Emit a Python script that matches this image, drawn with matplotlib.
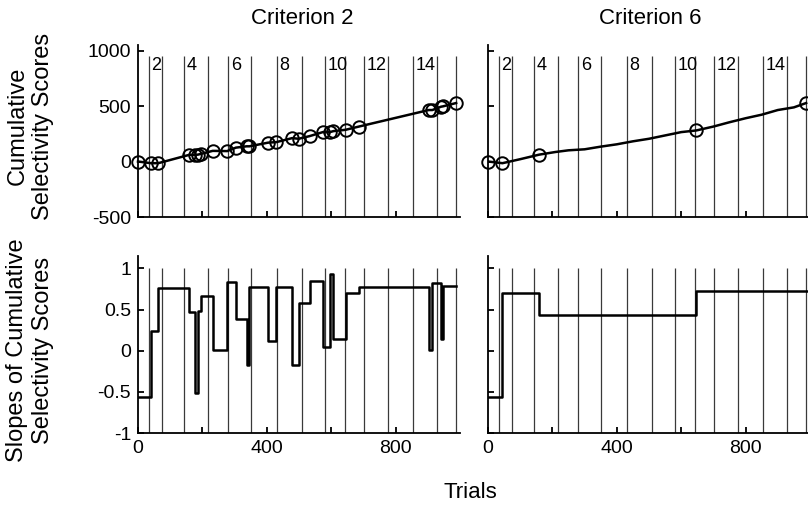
import matplotlib
matplotlib.use("Agg")
import matplotlib.pyplot as plt

plt.rcParams['font.family'] = ['Liberation Sans', 'DejaVu Sans']

# ---- data ----
block_bounds = [33, 74, 144, 217, 281, 350, 431, 509, 581, 644, 701, 775, 853, 928, 987]
block_labels = ['2', '4', '6', '8', '10', '12', '14']
block_label_idx = [0, 2, 4, 6, 8, 10, 12]

# Criterion 2
c2_trials = [0, 40, 63, 159, 177, 186, 197, 232, 277, 304, 337, 346, 404, 430,
             479, 499, 533, 574, 596, 607, 645, 686, 903, 914, 941, 947, 988]
c2_cum = [0, -15, -15, 60, 60, 62, 70, 96, 94, 125, 137, 137, 170, 175,
          211, 205, 229, 265, 265, 274, 286, 315, 464, 464, 494, 497, 527]
c2_slopes = [-0.56, 0.24, 0.76, 0.47, -0.52, 0.48, 0.67, 0.01, 0.83, 0.38, -0.18,
             0.77, 0.12, 0.77, -0.17, 0.58, 0.85, 0.05, 0.93, 0.14, 0.70, 0.77,
             0.01, 0.82, 0.14, 0.79]

# Criterion 6
c6_trials = [0, 45, 159, 647, 988]
c6_cum = [0, -15, 62, 280, 527]
c6_line_x = [0, 45, 100, 159, 210, 250, 300, 350, 400, 450, 500, 550, 600, 647,
             700, 750, 800, 850, 900, 950, 988]
c6_line_y = [0, -15, 21, 62, 86, 101, 110, 134, 155, 182, 205, 235, 265, 280,
             315, 354, 390, 422, 464, 488, 527]
c6_edges = [0, 45, 159, 647, 1000]
c6_slopes = [-0.56, 0.70, 0.43, 0.73]

W, H = 808, 515
fig = plt.figure(figsize=(W / 100, H / 100), dpi=100)


def ax_at(x0, y0, x1, y1):
    return fig.add_axes([x0 / W, 1 - y1 / H, (x1 - x0) / W, (y1 - y0) / H])


ax_tl = ax_at(138, 45, 460, 217)
ax_tr = ax_at(488, 45, 810, 217)
ax_bl = ax_at(138, 256, 460, 433)
ax_br = ax_at(488, 256, 810, 433)

line_col = '#3a3a3a'
for ax in (ax_tl, ax_tr, ax_bl, ax_br):
    for s in ('top', 'right'):
        ax.spines[s].set_visible(False)
    for s in ('left', 'bottom'):
        ax.spines[s].set_linewidth(1.3)
    ax.set_xlim(0, 1000)
    ax.set_xticks([0, 200, 400, 600, 800])
    ax.tick_params(direction='in', length=4, width=1.3, labelsize=14, pad=5)

for ax in (ax_tl, ax_tr):
    ax.set_ylim(-500, 1050)
    ax.set_yticks([-500, 0, 500, 1000])
    ax.set_xticklabels([])
    ax.vlines(block_bounds, -500, 950, color=line_col, lw=0.9, zorder=1)
    for i, lab in zip(block_label_idx, block_labels):
        ax.text(block_bounds[i] + 8, 865, lab, ha='left', va='center', fontsize=13)

for ax in (ax_bl, ax_br):
    ax.set_ylim(-1, 1.15)
    ax.set_yticks([-1, -0.5, 0, 0.5, 1])
    ax.set_xticklabels(['0', '', '400', '', '800'])
    ax.vlines(block_bounds, -1, 1, color=line_col, lw=0.9, zorder=1)

ax_tl.set_yticklabels(['-500', '0', '500', '1000'])
ax_bl.set_yticklabels(['-1', '-0.5', '0', '0.5', '1'])
ax_tr.set_yticklabels([])
ax_br.set_yticklabels([])

# top panels
ax_tl.plot(c2_trials, c2_cum, color='black', lw=1.8, marker='o', ms=9,
           mfc='none', mec='black', mew=1.4, zorder=3, clip_on=False)
ax_tr.plot(c6_line_x, c6_line_y, color='black', lw=1.8, zorder=3)
ax_tr.plot(c6_trials, c6_cum, ls='none', marker='o', ms=9, mfc='none',
           mec='black', mew=1.4, zorder=3, clip_on=False)

# bottom panels (step functions)
ax_bl.step(c2_trials, c2_slopes + [c2_slopes[-1]], where='post', color='black',
           lw=1.8, zorder=3)
ax_br.step(c6_edges, c6_slopes + [c6_slopes[-1]], where='post', color='black',
           lw=1.8, zorder=3)

# titles and labels
fig.text(302 / W, 1 - 18 / H, 'Criterion 2', ha='center', va='center', fontsize=16)
fig.text(650 / W, 1 - 18 / H, 'Criterion 6', ha='center', va='center', fontsize=16)
fig.text(30 / W, 1 - 126 / H, 'Cumulative\nSelectivity Scores', rotation=90,
         ha='center', va='center', fontsize=17, linespacing=1.2, multialignment='center')
fig.text(30 / W, 1 - 350 / H, 'Slopes of Cumulative\nSelectivity Scores', rotation=90,
         ha='center', va='center', fontsize=17, linespacing=1.2, multialignment='center')
fig.text(470 / W, 1 - 492 / H, 'Trials', ha='center', va='center', fontsize=16)

fig.savefig('out.png', dpi=100)
